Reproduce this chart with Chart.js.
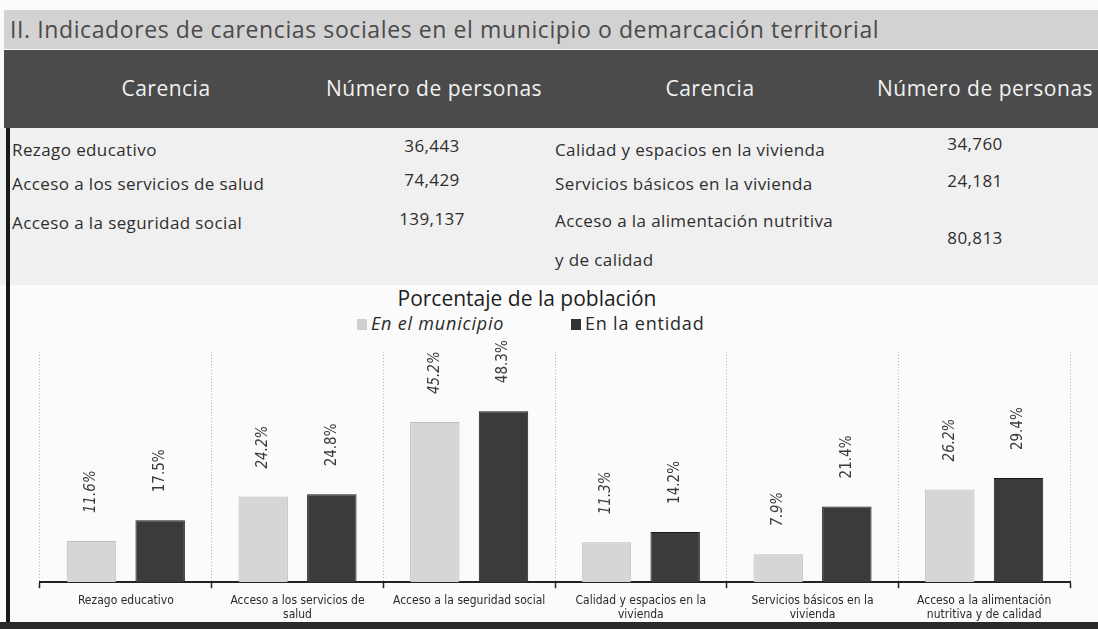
<!DOCTYPE html>
<html>
<head>
<meta charset="utf-8">
<script src="https://cdn.jsdelivr.net/npm/chart.js@4"></script>
<style>
  body { margin: 0; width: 1098px; height: 629px; overflow: hidden; background: #fbfbfb; font-family: "Open Sans", sans-serif; position: relative; }
  .abs { position: absolute; white-space: nowrap; }
  #titulo { left: 4px; top: 10px; width: 1094px; height: 39px; background: #d2d2d2; color: #4a4a4a; font-size: 23px; letter-spacing: 0.6px; line-height: 39px; padding-left: 6px; box-sizing: border-box; }
  #cabecera { left: 4px; top: 50px; width: 1094px; height: 78px; background: #4b4b4b; }
  .th { color: #f2f2f2; font-size: 21px; letter-spacing: 0.5px; top: 74px; transform: translateX(-50%); }
  #tabla { left: 0; top: 128px; width: 1098px; height: 157px; background: #f0f0f0; }
  .td { color: #2e2e2e; font-size: 17px; letter-spacing: 0.4px; }
  .num { transform: translateX(-50%); }
  #borde { left: 6px; top: 128px; width: 4px; height: 496px; background: #1a1a1a; }
  #pie { left: 0; top: 622px; width: 1098px; height: 7px; background: #2a2a2a; }
  #ctitulo { left: 527px; top: 284px; transform: translateX(-50%); font-size: 21px; color: #1e1e1e; }
  .ley { top: 311px; font-size: 18px; letter-spacing: 0.8px; color: #2a2a2a; }
  .caja { display: inline-block; width: 10px; height: 11px; margin-right: 4px; vertical-align: 0px; }
  #grafica { left: 0; top: 335px; }
</style>
</head>
<body>
<div id="titulo" class="abs">II. Indicadores de carencias sociales en el municipio o demarcación territorial</div>
<div id="cabecera" class="abs"></div>
<div id="tabla" class="abs"></div>
<div id="borde" class="abs"></div>
<div id="pie" class="abs"></div>
<div id="ctitulo" class="abs">Porcentaje de la población</div>
<div class="abs ley" style="left:357px;font-style:italic"><span class="caja" style="background:#cfcfcf"></span>En el municipio</div>
<div class="abs ley" style="left:571px"><span class="caja" style="background:#333"></span>En la entidad</div>
<div id="grafica" class="abs"><canvas id="chart" width="1098" height="294"></canvas></div>

<script>
// tabla de personas
const encabezados = ["Carencia", "Número de personas", "Carencia", "Número de personas"];
const carenciasIzq = ["Rezago educativo", "Acceso a los servicios de salud", "Acceso a la seguridad social"];
const personasIzq = ["36,443", "74,429", "139,137"];
const carenciasDer = ["Calidad y espacios en la vivienda", "Servicios básicos en la vivienda", "Acceso a la alimentación nutritiva"];
const personasDer = ["34,760", "24,181", "80,813"];

// grafica
const categorias = [
    ["Rezago educativo"],
    ["Acceso a los servicios de", "salud"],
    ["Acceso a la seguridad social"],
    ["Calidad y espacios en la", "vivienda"],
    ["Servicios básicos en la", "vivienda"],
    ["Acceso a la alimentación", "nutritiva y de calidad"]
];
const enMunicipio = [11.6, 24.2, 45.2, 11.3, 7.9, 26.2];
const enEntidad = [17.5, 24.8, 48.3, 14.2, 21.4, 29.4];

function texto(cls, str, left, top) {
    const d = document.createElement('div');
    d.className = 'abs ' + cls;
    d.style.left = left + 'px';
    d.style.top = top + 'px';
    d.textContent = str;
    document.body.appendChild(d);
}

const centrosCab = [166, 434, 710, 985];
encabezados.forEach((h, i) => {
    const d = document.createElement('div');
    d.className = 'abs th';
    d.style.left = centrosCab[i] + 'px';
    d.textContent = h;
    document.body.appendChild(d);
});

const filasY = [138, 172, 211];
carenciasIzq.forEach((c, i) => texto('td', c, 12, filasY[i]));
personasIzq.forEach((p, i) => texto('td num', p, 432, filasY[i] - 4));
carenciasDer.forEach((c, i) => texto('td', c, 555, filasY[i] - (i === 2 ? 2 : 0)));
texto('td', 'y de calidad', 555, 248);
const filasDerY = [132, 169, 226];
personasDer.forEach((p, i) => texto('td num', p, 975, filasDerY[i]));

const etiquetas = {
    id: 'etiquetas',
    afterDatasetsDraw(chart) {
        const ctx = chart.ctx;
        chart.data.datasets.forEach((ds, i) => {
            chart.getDatasetMeta(i).data.forEach((bar, j) => {
                ctx.save();
                ctx.translate(bar.x, bar.y - 28);
                ctx.rotate(-Math.PI / 2);
                ctx.font = (i === 0 ? 'italic ' : '') + '15px "DejaVu Sans Condensed"';
                ctx.fillStyle = '#3a3a3a';
                ctx.textAlign = 'left';
                ctx.textBaseline = 'middle';
                ctx.fillText(ds.data[j].toFixed(1) + '%', 0, 0);
                ctx.restore();
            });
        });
    }
};

new Chart(document.getElementById('chart').getContext('2d'), {
    type: 'bar',
    data: {
        labels: categorias,
        datasets: [{
            label: 'En el municipio',
            data: enMunicipio,
            backgroundColor: '#d6d6d6',
            borderColor: '#bdbdbd',
            borderWidth: 1,
            categoryPercentage: 0.8,
            barPercentage: 0.72
        }, {
            label: 'En la entidad',
            data: enEntidad,
            backgroundColor: '#3b3b3b',
            borderColor: '#1c1c1c',
            borderWidth: 1,
            categoryPercentage: 0.8,
            barPercentage: 0.72
        }]
    },
    options: {
        responsive: false,
        animation: false,
        layout: { padding: { left: 40, right: 28, top: 17, bottom: 2 } },
        plugins: { legend: { display: false }, title: { display: false }, tooltip: { enabled: false } },
        scales: {
            y: { display: false, min: 0, max: 65 },
            x: {
                grid: { color: '#b8b8b8', lineWidth: 1, tickColor: '#222', tickLength: 6, tickWidth: 1.5 },
                border: { color: '#222', width: 2, dash: [1, 2] },
                ticks: { color: '#2a2a2a', padding: 5, maxRotation: 0, autoSkip: false,
                    font: { family: '"DejaVu Sans Condensed"', size: 12, lineHeight: 1.2 } }
            }
        }
    },
    plugins: [etiquetas]
});
</script>
</body>
</html>
